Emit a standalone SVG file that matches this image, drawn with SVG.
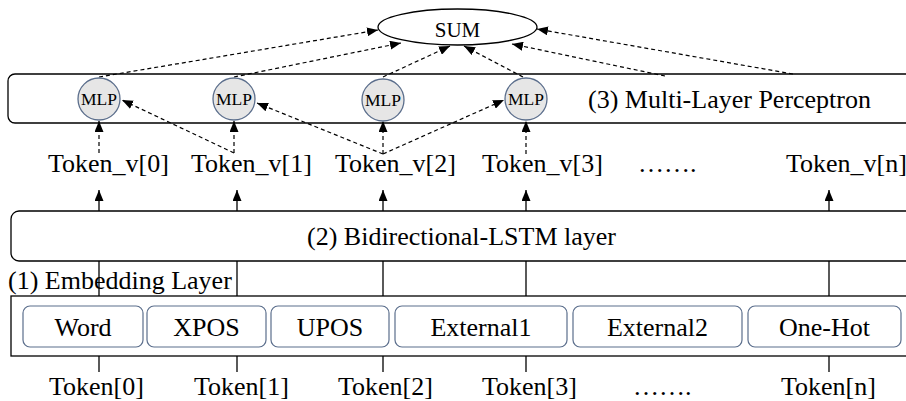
<svg xmlns="http://www.w3.org/2000/svg" width="906" height="401" viewBox="0 0 906 401">
<style>
text{font-family:"Liberation Serif","Times New Roman",serif;fill:#000}
.t{font-size:26px}
.m{font-size:17.5px;text-anchor:middle}
.c{text-anchor:middle}
.box{fill:#fff;stroke:#000;stroke-width:1.3}
.emb{fill:#fff;stroke:#5b6e8c;stroke-width:1.2}
.mlp{fill:#e6e6e6;stroke:#5b6e8c;stroke-width:1.3}
.s{stroke:#000;stroke-width:1.3;fill:none}
.d{stroke:#000;stroke-width:1.2;fill:none;stroke-dasharray:4 3}
.a{marker-end:url(#ah)}
</style>
<defs>
<marker id="ah" markerUnits="userSpaceOnUse" markerWidth="11" markerHeight="9" refX="11" refY="4.5" orient="auto">
<path d="M0,0 L11,4.5 L0,9 z" fill="#000"/>
</marker>
</defs>
<rect width="906" height="401" fill="#fff"/>

<g id="mlp-layer">
<rect class="box" x="8" y="74" width="930" height="49" rx="7"/>
<text class="t" x="588" y="108">(3) Multi-Layer Perceptron</text>
</g>
<g id="lstm-layer">
<rect class="box" x="11" y="211" width="930" height="50" rx="8"/>
<text class="t" x="307" y="245">(2) Bidirectional-LSTM layer</text>
</g>
<g id="embedding-layer">
<text class="t" x="8" y="289">(1) Embedding Layer</text>
<rect class="box" x="11" y="296" width="920" height="60"/>
</g>

<g id="connectors">
<line class="s" x1="99" y1="261" x2="99" y2="296"/>
<line class="s" x1="237" y1="261" x2="237" y2="296"/>
<line class="s" x1="383" y1="261" x2="383" y2="296"/>
<line class="s" x1="526" y1="261" x2="526" y2="296"/>
<line class="s" x1="829" y1="261" x2="829" y2="296"/>
<line class="s" x1="99" y1="356" x2="99" y2="372"/>
<line class="s" x1="237" y1="356" x2="237" y2="372"/>
<line class="s" x1="383" y1="356" x2="383" y2="372"/>
<line class="s" x1="526" y1="356" x2="526" y2="372"/>
<line class="s" x1="829" y1="356" x2="829" y2="372"/>
<line class="s a" x1="99" y1="211" x2="99" y2="190"/>
<line class="s a" x1="237" y1="211" x2="237" y2="190"/>
<line class="s a" x1="383" y1="211" x2="383" y2="190"/>
<line class="s a" x1="526" y1="211" x2="526" y2="190"/>
<line class="s a" x1="829" y1="211" x2="829" y2="190"/>
<line class="d a" x1="99" y1="153" x2="99" y2="121"/>
<line class="d a" x1="234" y1="153" x2="234" y2="121"/>
<line class="d a" x1="383" y1="154" x2="383" y2="121"/>
<line class="d a" x1="526" y1="154" x2="526" y2="121"/>
<line class="d a" x1="234" y1="153" x2="122" y2="100"/>
<line class="d a" x1="383" y1="154" x2="257" y2="103"/>
<line class="d a" x1="383" y1="154" x2="504" y2="100"/>
<line class="d a" x1="99" y1="77" x2="378" y2="30"/>
<line class="d a" x1="234" y1="77" x2="401" y2="43"/>
<line class="d a" x1="383" y1="77" x2="450" y2="46"/>
<line class="d a" x1="523" y1="77" x2="464" y2="46"/>
<line class="d a" x1="665" y1="76" x2="512" y2="44"/>
<line class="d a" x1="793" y1="74" x2="537" y2="29"/>
</g>

<g id="sum">
<ellipse class="box" cx="457.5" cy="27" rx="79.5" ry="18"/>
<text class="c" x="457.5" y="37" font-size="21">SUM</text>
</g>

<g id="mlp0"><circle class="mlp" cx="99" cy="99" r="21"/><text class="m" x="99" y="105">MLP</text></g>
<g id="mlp1"><circle class="mlp" cx="234" cy="99" r="21"/><text class="m" x="234" y="105">MLP</text></g>
<g id="mlp2"><circle class="mlp" cx="383" cy="100" r="21"/><text class="m" x="383" y="106">MLP</text></g>
<g id="mlp3"><circle class="mlp" cx="526" cy="99" r="21"/><text class="m" x="526" y="105">MLP</text></g>

<g id="token-v">
<text class="t" x="48" y="172">Token_v[0]</text>
<text class="t" x="191" y="172">Token_v[1]</text>
<text class="t" x="335" y="172">Token_v[2]</text>
<text class="t" x="482" y="172">Token_v[3]</text>
<text class="t" x="638" y="172">…….</text>
<text class="t" x="786" y="172">Token_v[n]</text>
</g>

<g id="emb-word"><rect class="emb" x="23" y="306" width="120" height="41" rx="7"/><text class="t c" x="83" y="336">Word</text></g>
<g id="emb-xpos"><rect class="emb" x="147" y="306" width="119" height="41" rx="7"/><text class="t c" x="206.5" y="336">XPOS</text></g>
<g id="emb-upos"><rect class="emb" x="271" y="306" width="118" height="41" rx="7"/><text class="t c" x="330" y="336">UPOS</text></g>
<g id="emb-ext1"><rect class="emb" x="395" y="306" width="172" height="41" rx="7"/><text class="t c" x="481" y="336">External1</text></g>
<g id="emb-ext2"><rect class="emb" x="573" y="306" width="169" height="41" rx="7"/><text class="t c" x="657.5" y="336">External2</text></g>
<g id="emb-onehot"><rect class="emb" x="748" y="306" width="153" height="41" rx="7"/><text class="t c" x="824.5" y="336">One-Hot</text></g>

<g id="tokens">
<text class="t" x="49" y="395">Token[0]</text>
<text class="t" x="194" y="395">Token[1]</text>
<text class="t" x="338" y="395">Token[2]</text>
<text class="t" x="482" y="395">Token[3]</text>
<text class="t" x="633" y="395">…….</text>
<text class="t" x="781" y="395">Token[n]</text>
</g>
</svg>
